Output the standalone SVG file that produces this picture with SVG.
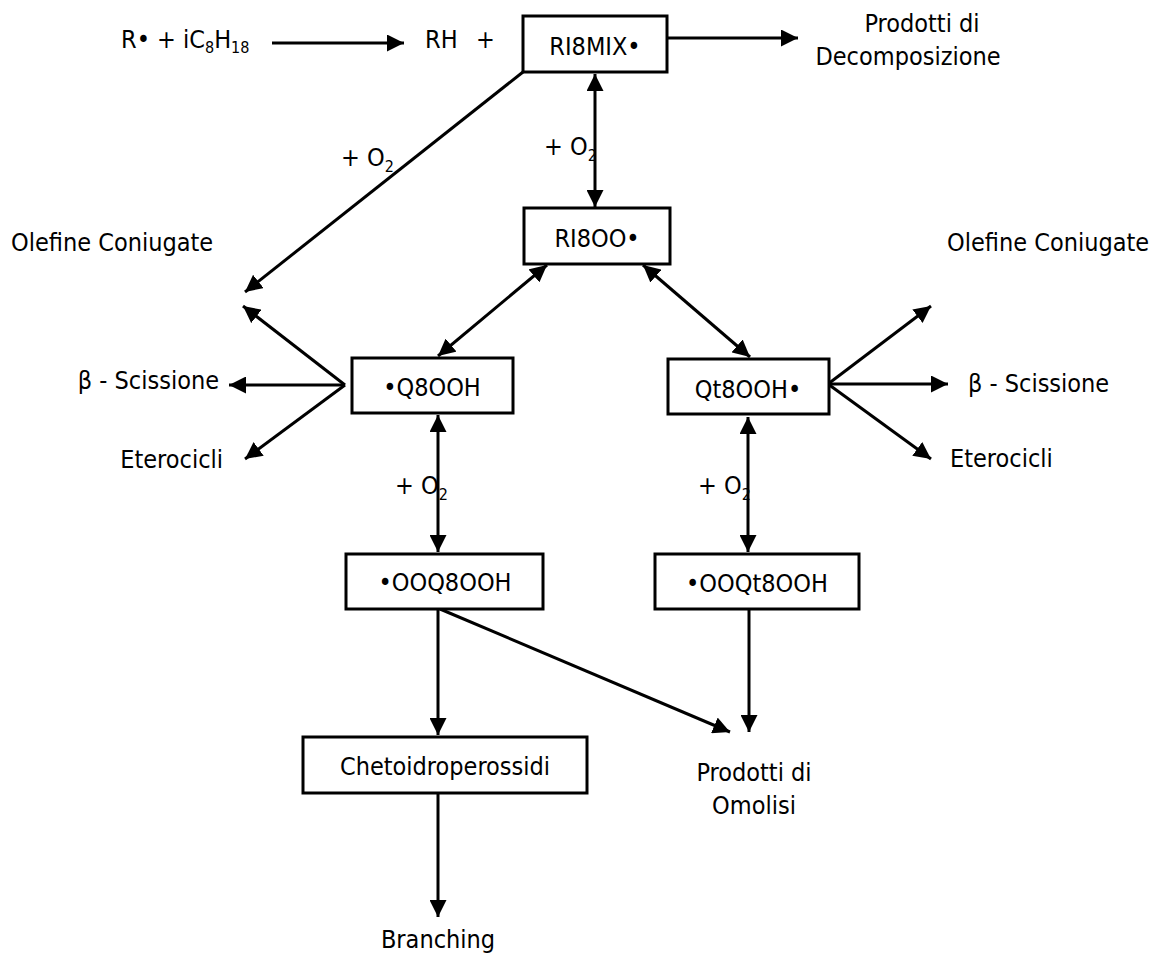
<svg xmlns="http://www.w3.org/2000/svg" width="1158" height="954" viewBox="0 0 1158 954">
<defs>
<style>
text{font-family:"DejaVu Sans Condensed","DejaVu Sans",sans-serif;font-stretch:condensed;font-size:25px;fill:#000}
.sub{font-size:16px}
.box{fill:#fff;stroke:#000;stroke-width:3}
.c{text-anchor:middle}
.e{text-anchor:end}
.ln{stroke:#000;stroke-width:3;fill:none}
.a{marker-end:url(#ah)}
.d{marker-start:url(#ah);marker-end:url(#ah)}
</style>
<marker id="ah" markerUnits="userSpaceOnUse" markerWidth="17" markerHeight="17" refX="16" refY="8" orient="auto-start-reverse" viewBox="0 0 16 16">
<path d="M0,0 L16,8 L0,16 z" fill="#000"/>
</marker>
</defs>
<rect width="1158" height="954" fill="#fff"/>
<g id="connectors">
<line class="ln a" x1="272" y1="43" x2="404" y2="43"/>
<line class="ln a" x1="667" y1="38" x2="798" y2="38"/>
<line class="ln d" x1="595" y1="74" x2="595" y2="207"/>
<line class="ln a" x1="523" y1="72" x2="245" y2="292"/>
<line class="ln d" x1="547" y1="265" x2="438" y2="356"/>
<line class="ln d" x1="643" y1="265" x2="750" y2="357"/>
<line class="ln a" x1="345" y1="385" x2="243" y2="306"/>
<line class="ln a" x1="345" y1="385" x2="229" y2="385"/>
<line class="ln a" x1="345" y1="385" x2="245" y2="459"/>
<line class="ln a" x1="828" y1="384" x2="931" y2="306"/>
<line class="ln a" x1="828" y1="384" x2="948" y2="384"/>
<line class="ln a" x1="828" y1="384" x2="931" y2="459"/>
<line class="ln d" x1="438" y1="415" x2="438" y2="552"/>
<line class="ln d" x1="748" y1="417" x2="748" y2="552"/>
<line class="ln a" x1="438" y1="609" x2="438" y2="735"/>
<line class="ln a" x1="440" y1="609" x2="730" y2="732"/>
<line class="ln a" x1="749" y1="609" x2="749" y2="732"/>
<line class="ln a" x1="438" y1="793" x2="438" y2="917"/>
<text x="341" y="166">+ O<tspan class="sub" dy="6">2</tspan></text>
<text x="544" y="155">+ O<tspan class="sub" dy="6">2</tspan></text>
<text x="395" y="494">+ O<tspan class="sub" dy="6">2</tspan></text>
<text x="698" y="494">+ O<tspan class="sub" dy="6">2</tspan></text>
</g>
<g id="reactants">
<text x="121" y="48">R• + iC<tspan class="sub" dy="5">8</tspan><tspan dy="-5">H</tspan><tspan class="sub" dy="5">18</tspan></text>
<text x="425" y="48">RH<tspan x="476">+</tspan></text>
</g>
<g id="RI8MIX"><rect class="box" x="523" y="16" width="144" height="56"/><text class="c" x="595" y="55">RI8MIX•</text></g>
<g id="decomp"><text class="c" x="922" y="32">Prodotti di</text><text class="c" x="908" y="65">Decomposizione</text></g>
<g id="RI8OO"><rect class="box" x="524" y="208" width="146" height="56"/><text class="c" x="597" y="247">RI8OO•</text></g>
<g id="Q8OOH"><rect class="box" x="352" y="358" width="161" height="55"/><text class="c" x="432" y="396">•Q8OOH</text></g>
<g id="Qt8OOH"><rect class="box" x="668" y="359" width="161" height="55"/><text class="c" x="748" y="398">Qt8OOH•</text></g>
<g id="left-products">
<text x="11" y="251">Olefine Coniugate</text>
<text class="e" x="219" y="389">β - Scissione</text>
<text class="e" x="223" y="468">Eterocicli</text>
</g>
<g id="right-products">
<text x="947" y="251">Olefine Coniugate</text>
<text x="968" y="392">β - Scissione</text>
<text x="950" y="467">Eterocicli</text>
</g>
<g id="OOQ8OOH"><rect class="box" x="346" y="554" width="197" height="55"/><text class="c" x="445" y="591">•OOQ8OOH</text></g>
<g id="OOQt8OOH"><rect class="box" x="655" y="554" width="204" height="55"/><text class="c" x="757" y="592">•OOQt8OOH</text></g>
<g id="Chetoidroperossidi"><rect class="box" x="303" y="737" width="284" height="56"/><text class="c" x="445" y="775">Chetoidroperossidi</text></g>
<g id="omolisi"><text class="c" x="754" y="781">Prodotti di</text><text class="c" x="754" y="814">Omolisi</text></g>
<g id="branching"><text class="c" x="438" y="948">Branching</text></g>
</svg>
